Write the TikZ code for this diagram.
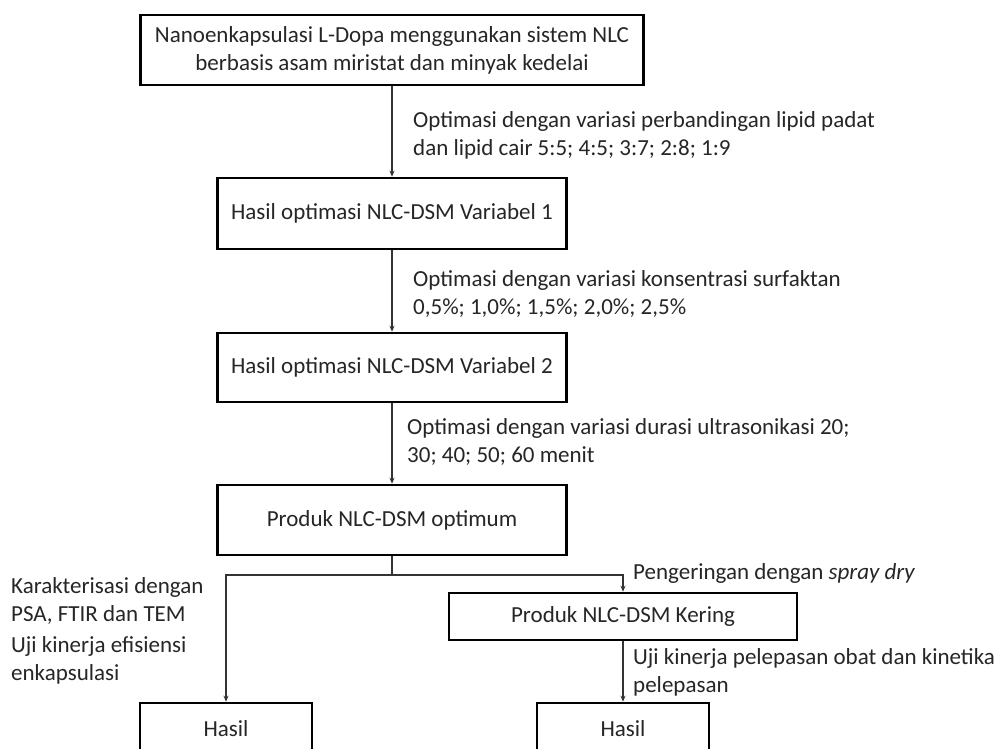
\documentclass[tikz,border=0pt]{standalone}
\usepackage{fontspec}
\setmainfont{Carlito}
\usetikzlibrary{arrows.meta}
\begin{document}
\begin{tikzpicture}[x=1pt,y=-1pt,
  box/.style={draw=black,line width=2.6pt,rectangle,inner sep=0pt,align=center,
    font=\fontsize{23}{28}\selectfont,text=black!85},
  lbl/.style={inner sep=0pt,align=left,anchor=west,
    font=\fontsize{23}{28}\selectfont,text=black!85},
  arr/.style={draw=black!80,line width=1.3pt,-{Stealth[length=6pt,width=5pt]}},
  ln/.style={draw=black!80,line width=1.3pt}]
\clip (0,0) rectangle (1002,749);
\fill[white] (0,0) rectangle (1002,749);
% boxes
\node[box,minimum width=503pt,minimum height=70pt] (b1) at (392,50)
  {Nanoenkapsulasi L-Dopa menggunakan sistem NLC\\berbasis asam miristat dan minyak kedelai};
\node[box,minimum width=349pt,minimum height=71pt] (b2) at (392,213.5)
  {Hasil optimasi NLC-DSM Variabel 1};
\node[box,minimum width=349pt,minimum height=69pt] (b3) at (392,367.5)
  {Hasil optimasi NLC-DSM Variabel 2};
\node[box,minimum width=349pt,minimum height=70pt] (b4) at (392,520)
  {Produk NLC-DSM optimum};
\node[box,minimum width=348pt,minimum height=47pt] (b5) at (623,616.5)
  {Produk NLC-DSM Kering};
\node[box,minimum width=172pt,minimum height=52pt] (h1) at (226,729)
  {Hasil};
\node[box,minimum width=172pt,minimum height=52pt] (h2) at (623,729)
  {Hasil};
% labels
\node[lbl] (l1) at (413,135)
  {Optimasi dengan variasi perbandingan lipid padat\\dan lipid cair 5:5; 4:5; 3:7; 2:8; 1:9};
\node[lbl] (l2) at (413,294)
  {Optimasi dengan variasi konsentrasi surfaktan\\0,5\%; 1,0\%; 1,5\%; 2,0\%; 2,5\%};
\node[lbl] (l3) at (407,442)
  {Optimasi dengan variasi durasi ultrasonikasi 20;\\30; 40; 50; 60 menit};
\node[lbl] (l4) at (11,601)
  {Karakterisasi dengan\\PSA, FTIR dan TEM};
\node[lbl] (l5) at (11,660)
  {Uji kinerja efisiensi\\enkapsulasi};
\node[lbl] (l6) at (633,573)
  {Pengeringan dengan \textit{spray dry}};
\node[lbl] (l7) at (633,672)
  {Uji kinerja pelepasan obat dan kinetika\\pelepasan};
% connectors
\draw[arr] (b1.south) -- (b2.north);
\draw[arr] (b2.south) -- (b3.north);
\draw[arr] (b3.south) -- (b4.north);
\coordinate (split) at (392,575);
\draw[ln] (b4.south) -- (split);
\draw[arr] (split) -| (h1.north);
\draw[arr] (split) -| (b5.north);
\draw[arr] (b5.south) -- (h2.north);
\end{tikzpicture}
\end{document}
